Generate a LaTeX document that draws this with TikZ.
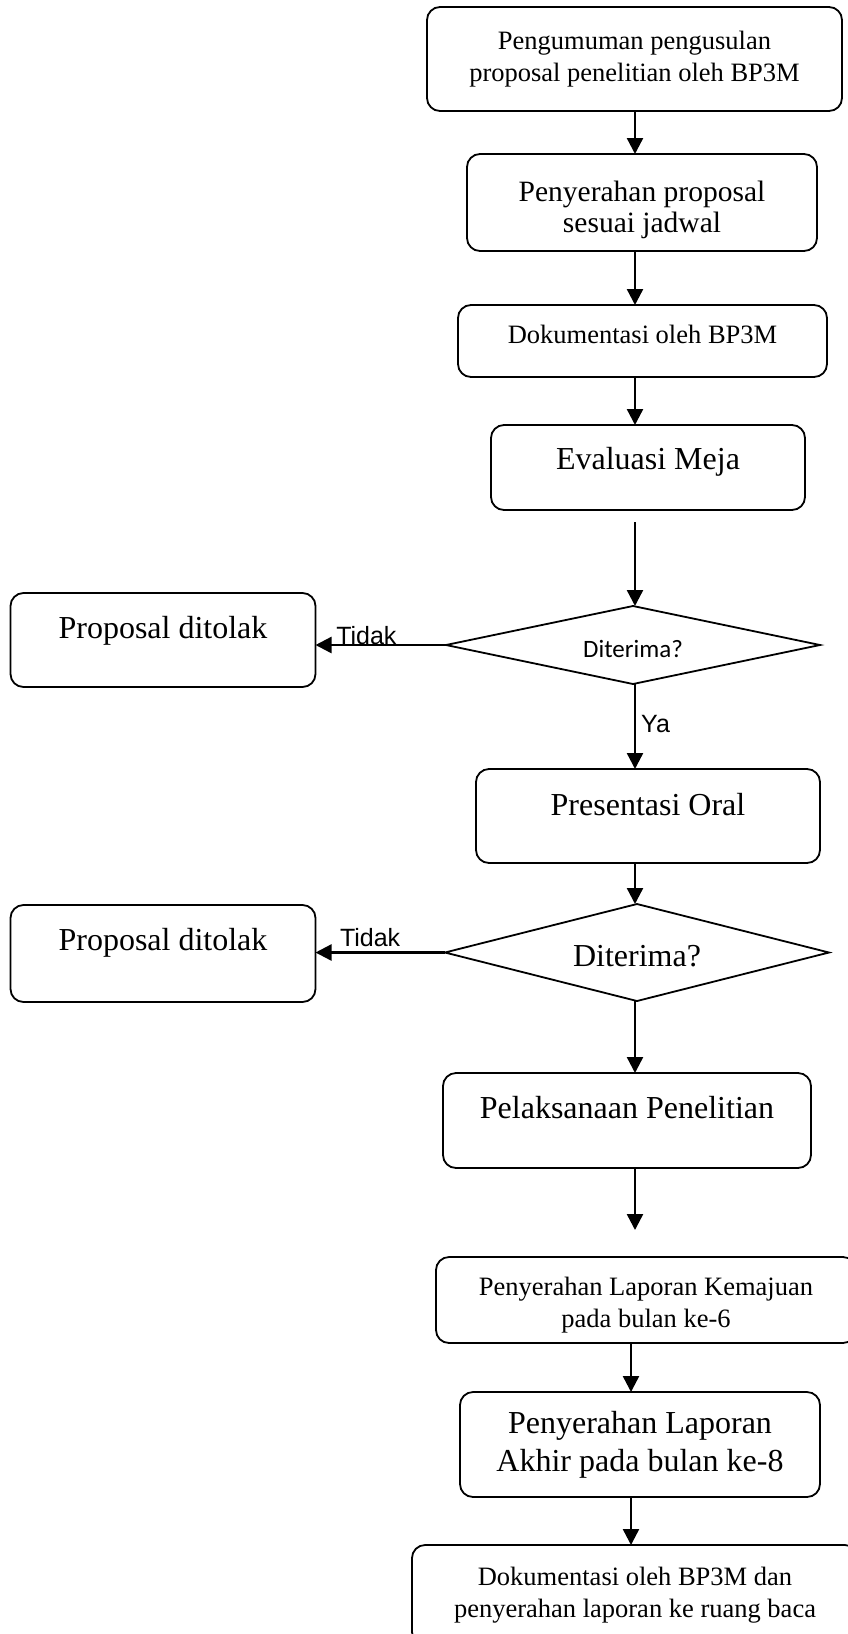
\documentclass[tikz,border=0pt]{standalone}
\usepackage{fontspec}
\setmainfont{Liberation Serif}
\newfontfamily\arialfont{Liberation Sans}
\newfontfamily\calibrifont{Carlito}
\usetikzlibrary{shapes.geometric, arrows.meta, calc}

\begin{document}
\begin{tikzpicture}[
    x=1pt, y=-1pt,
    box/.style={draw, line width=1.8pt, rounded corners=13pt, align=center, inner sep=3pt, outer sep=0pt},
    small_text/.style={font=\fontsize{26.5}{32}\selectfont},
    big_text/.style={font=\fontsize{32}{38}\selectfont},
    decision/.style={draw, diamond, line width=1.8pt, inner sep=2pt, outer sep=0pt},
    flow_arrow/.style={-{Triangle[width=16pt, length=16pt]}, line width=2.4pt},
    branch_label/.style={font=\arialfont\fontsize{25}{25}\selectfont, inner sep=0pt}
]
    \useasboundingbox (0,0) rectangle (848,1634);
    \coordinate (spine) at (635,0);
    \coordinate (spine2) at (631,0);
    % Alur pengajuan
    \node[box, small_text, minimum width=415pt, minimum height=104pt] (pengumuman) at (634.5,59)
        {Pengumuman pengusulan\\proposal penelitian oleh BP3M};
    \node[box, font=\fontsize{29.5}{31}\selectfont, minimum width=350pt, minimum height=97pt] (penyerahan) at (642,202.5)
        {\rule{0pt}{36pt}Penyerahan proposal\\sesuai jadwal};
    \node[box, small_text, text height=18pt, text depth=14pt, minimum width=369pt, minimum height=72pt] (dokumentasi) at (642.5,341)
        {Dokumentasi oleh BP3M};
    \node[box, big_text, text height=22pt, text depth=19pt, minimum width=314pt, minimum height=85pt] (evaluasi) at (648,467.5)
        {Evaluasi Meja};
    % Keputusan 1
    \node[decision, font=\calibrifont\fontsize{25}{25}\selectfont, text height=24pt, text depth=0pt, aspect=4.8,
        minimum width=374pt, minimum height=78pt] (cek1) at (633,645) {Diterima?};
    \node[box, big_text, text height=22pt, text depth=25pt, minimum width=305pt, minimum height=94pt] (tolak1) at (163,640)
        {Proposal ditolak};
    \node[box, big_text, text height=22pt, text depth=24pt, minimum width=344pt, minimum height=94pt] (presentasi) at (648,816)
        {Presentasi Oral};
    % Keputusan 2
    \node[decision, big_text, text height=27pt, text depth=0pt, aspect=4,
        minimum width=384pt, minimum height=97pt] (cek2) at (637,952.5) {Diterima?};
    \node[box, big_text, text height=22pt, text depth=28pt, minimum width=305pt, minimum height=97pt] (tolak2) at (163,953.5)
        {Proposal ditolak};
    % Pelaksanaan dan laporan
    \node[box, big_text, text height=22pt, text depth=27pt, minimum width=368pt, minimum height=95pt] (pelaksanaan) at (627,1120.5)
        {Pelaksanaan Penelitian};
    \node[box, small_text, minimum width=420pt, minimum height=86pt] (kemajuan) at (646,1300)
        {\rule{0pt}{28pt}Penyerahan Laporan Kemajuan\\pada bulan ke-6};
    \node[box, big_text, minimum width=360pt, minimum height=105pt] (akhir) at (640,1444.5)
        {Penyerahan Laporan\\Akhir pada bulan ke-8};
    \node[box, small_text, minimum width=446pt, minimum height=100pt] (arsip) at (635,1595)
        {Dokumentasi oleh BP3M dan\\penyerahan laporan ke ruang baca};
    \coordinate (evaluasi_out) at ($(evaluasi.south -| spine)+(0,12)$);
    \coordinate (kemajuan_in) at ($(kemajuan.north -| spine)+(0,-27)$);
    % Panah
    \draw[flow_arrow] (pengumuman.south -| spine) -- (penyerahan.north -| spine);
    \draw[flow_arrow] (penyerahan.south -| spine) -- (dokumentasi.north -| spine);
    \draw[flow_arrow] (dokumentasi.south -| spine) -- (evaluasi.north -| spine);
    \draw[flow_arrow] (evaluasi_out) -- (cek1.north -| spine);
    \draw[flow_arrow] (cek1.south -| spine) -- node[branch_label, anchor=base west, pos=0.57, xshift=5pt] (ya) {Ya} (presentasi.north -| spine);
    \draw[flow_arrow] (presentasi.south -| spine) -- (cek2.north -| spine);
    \draw[flow_arrow] (cek2.south -| spine) -- (pelaksanaan.north -| spine);
    \draw[flow_arrow] (pelaksanaan.south -| spine) -- (kemajuan_in);
    \draw[flow_arrow] (kemajuan.south -| spine2) -- (akhir.north -| spine2);
    \draw[flow_arrow] (akhir.south -| spine2) -- (arsip.north -| spine2);
    % Cabang ditolak
    \draw[flow_arrow] (cek1.west) -- node[branch_label, anchor=base west, pos=0.85, yshift=1pt] (tidak1) {Tidak} (cek1.west -| tolak1.east);
    \draw[flow_arrow] (cek2.west) -- node[branch_label, anchor=base west, pos=0.82, yshift=6pt] (tidak2) {Tidak} (cek2.west -| tolak2.east);
\end{tikzpicture}
\end{document}
